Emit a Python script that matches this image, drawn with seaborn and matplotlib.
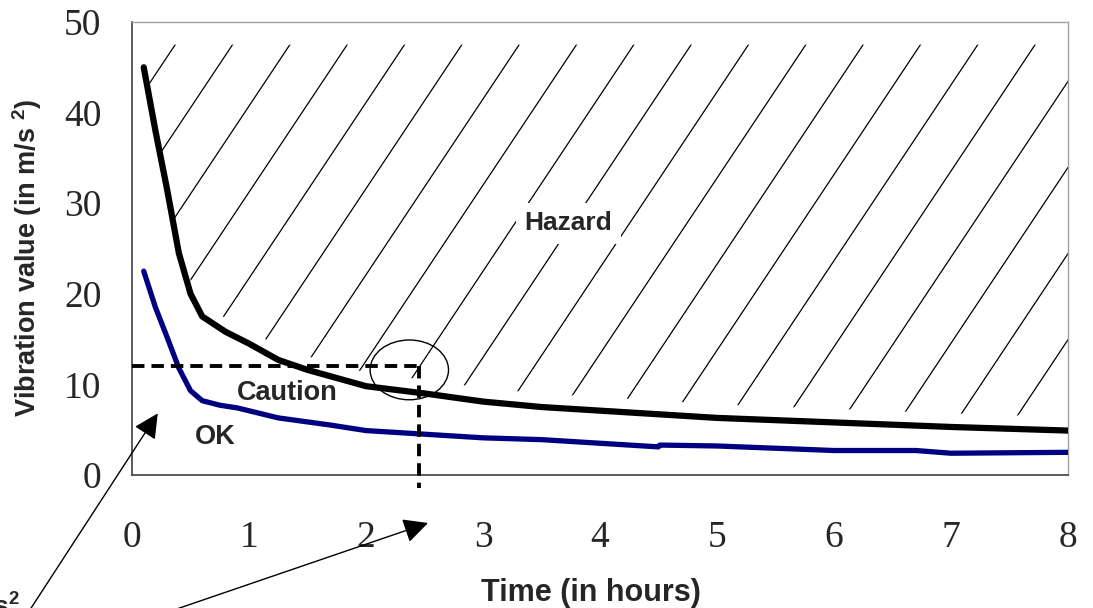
import matplotlib
matplotlib.use('Agg')  # no display in the sandbox

import numpy as np
import pandas as pd
import seaborn as sns
import matplotlib.pyplot as plt
from matplotlib.patches import Ellipse
from matplotlib.ticker import MultipleLocator

# === Data ===
hazard_hours = [0.1, 0.2, 0.3, 0.4, 0.5, 0.6, 0.8, 1.0, 1.25, 1.5, 2.0, 2.5, 3.0, 3.5, 4.0, 4.5, 5.0, 6.0, 7.0, 8.0]
hazard_limit = [45.0, 38.0, 31.5, 24.5, 20.0, 17.5, 15.8, 14.5, 12.7, 11.6, 9.8, 9.0, 8.1, 7.5, 7.1, 6.7, 6.3, 5.8, 5.3, 4.9]

ok_hours = [0.1, 0.2, 0.3, 0.4, 0.5, 0.6, 0.75, 0.9, 1.25, 1.7, 2.0, 2.5, 3.0, 3.5, 4.0, 4.5, 4.51, 5.0, 6.0, 6.7, 7.0, 8.0]
ok_limit = [22.5, 18.5, 15.2, 11.8, 9.3, 8.2, 7.7, 7.4, 6.3, 5.5, 4.9, 4.5, 4.1, 3.9, 3.5, 3.1, 3.3, 3.2, 2.7, 2.7, 2.4, 2.5]

threshold_value = 12       # m/s^2
threshold_hours = 2.45     # where the threshold meets the hazard curve
x_ticks = [0, 1, 2, 3, 4, 5, 6, 7, 8]
y_ticks = [0, 10, 20, 30, 40, 50]

hazard_df = pd.DataFrame({'hours': hazard_hours, 'limit': hazard_limit})
ok_df = pd.DataFrame({'hours': ok_hours, 'limit': ok_limit})

# === Style ===
sns.set_style('white')
plt.rcParams['font.family'] = ['Liberation Sans', 'DejaVu Sans']
plt.rcParams['mathtext.fontset'] = 'custom'
plt.rcParams['mathtext.rm'] = 'Liberation Sans'
plt.rcParams['mathtext.bf'] = 'Liberation Sans:bold'

fig = plt.figure(figsize=(10.93, 6.08), dpi=100)
ax = fig.add_axes([0.1208, 0.2188, 0.8563, 0.745])

# === Curves ===
sns.lineplot(data=hazard_df, x='hours', y='limit', color='black', lw=4.5, ax=ax, zorder=4)
sns.lineplot(data=ok_df, x='hours', y='limit', color='#000080', lw=3.8, ax=ax, zorder=4)

# === Hatching of the hazard zone (thin parallel lines clipped to the zone) ===
region = ax.fill_between(hazard_hours, np.array(hazard_limit) + 1.5, 47.5,
                         facecolor='none', edgecolor='none')
clip = region.get_paths()[0]
slope = 19.4   # data units of y per hour, ~56 degrees on screen
for x0 in np.arange(0.72 - 0.49, 11.0, 0.49):
    ln, = ax.plot([x0 - 2.5, x0 + 0.5], [44.8 - 2.5 * slope, 44.8 + 0.5 * slope],
                  color='black', lw=0.9, zorder=2)
    ln.set_clip_path(clip, region.get_transform())

# === Threshold guide lines ===
ax.plot([0, threshold_hours], [threshold_value, threshold_value], color='black',
        lw=2.8, ls=(0, (3.2, 1.8)), zorder=5)
ax.plot([threshold_hours, threshold_hours], [threshold_value, -1.4], color='black',
        lw=2.8, ls=(0, (3.2, 1.8)), zorder=5, clip_on=False)
ax.add_patch(Ellipse((2.37, 11.6), 0.67, 6.6, fill=False, ec='black', lw=1, zorder=6))

# === Zone labels ===
ax.text(3.73, 27.8, 'Hazard', ha='center', va='center', fontsize=19, fontweight='bold',
        zorder=3, bbox=dict(fc='white', ec='none', pad=6))
ax.text(1.33, 9.05, 'Caution', ha='center', va='center', fontsize=19.5, fontweight='bold')
ax.text(0.71, 4.2, 'OK', ha='center', va='center', fontsize=19.5, fontweight='bold')

# === Arrows coming in from outside ===
arrow_kw = dict(arrowstyle='-|>', color='black', lw=1, mutation_scale=38, shrinkA=0, shrinkB=0)
ax.annotate('', xy=(0.22, 6.8), xytext=(22, -14), textcoords='figure pixels',
            arrowprops=arrow_kw, annotation_clip=False)
ax.annotate('', xy=(2.53, -5.3), xytext=(165, -5), textcoords='figure pixels',
            arrowprops=arrow_kw, annotation_clip=False)
fig.text(20 / 1093, -6 / 608, r'm/s$^{\mathbf{2}}$', ha='right', va='baseline',
         fontsize=19, fontweight='bold')

# === Axes ===
ax.set_xlim(0, 8)
ax.set_ylim(0, 50)
ax.set_xticks(x_ticks)
ax.set_yticks(y_ticks)
ax.xaxis.set_minor_locator(MultipleLocator(0.5))
ax.yaxis.set_minor_locator(MultipleLocator(2))
ax.tick_params(axis='x', which='major', direction='out', length=8.6, width=1, color='#404040',
               pad=24, labelsize=27)
ax.tick_params(axis='x', which='minor', direction='out', length=5.8, width=1, color='#404040')
ax.tick_params(axis='y', which='major', direction='inout', length=15.8, width=1, color='#404040',
               pad=14, labelsize=27)
ax.tick_params(axis='y', which='minor', direction='in', length=5.8, width=1, color='#404040')
for lab in ax.get_xticklabels() + ax.get_yticklabels():
    lab.set_fontfamily('Liberation Serif')

ax.set_xlabel('Time (in hours)', fontsize=22, fontweight='bold')
ax.set_ylabel(r'Vibration value (in m/s $^{\mathbf{2}}$)', fontsize=19.5, fontweight='bold')
ax.xaxis.set_label_coords(0.49, -0.228)
ax.yaxis.set_label_coords(-0.094, 0.48)

for side in ['left', 'bottom']:
    ax.spines[side].set_color('#404040')
    ax.spines[side].set_linewidth(1.2)
for side in ['top', 'right']:
    ax.spines[side].set_color('#a0a0a0')
    ax.spines[side].set_linewidth(1)

fig.savefig('out.png', dpi=100)
print('saved out.png')
